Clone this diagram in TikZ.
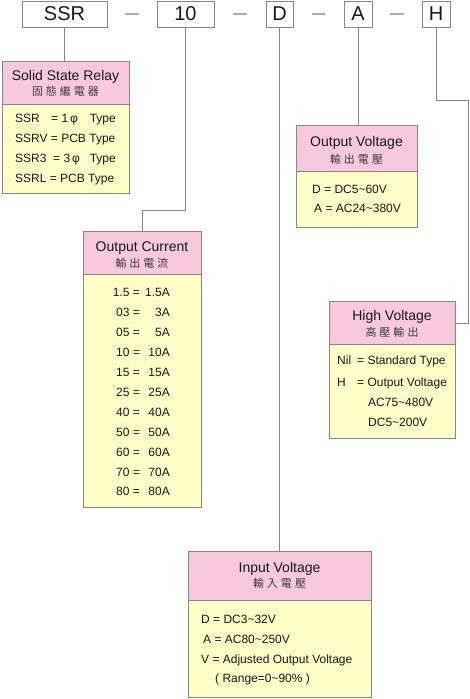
\documentclass[tikz,border=0pt]{standalone}
\usepackage{fontspec}
\setmainfont{Liberation Sans}
\newfontfamily\cjk{Noto Sans CJK TC}
\usetikzlibrary{calc}
\definecolor{hdrpink}{RGB}{248,200,221}
\definecolor{bodyyel}{RGB}{255,253,200}
\definecolor{edge}{RGB}{135,135,135}
\definecolor{ink}{RGB}{25,25,25}
\newcommand{\tild}{\textasciitilde}
\newcommand{\cg}{\hspace{3pt}}
\begin{document}
\begin{tikzpicture}[x=1pt,y=-1pt,
  topbox/.style={draw=edge,line width=0.8pt,fill=white,inner sep=0pt,minimum height=26pt,
    font=\fontsize{20}{20}\selectfont,text=ink},
  hdr/.style={draw=edge,line width=0.8pt,fill=hdrpink,inner sep=0pt,anchor=north west},
  bodybox/.style={draw=edge,line width=0.8pt,fill=bodyyel,inner sep=0pt,anchor=north west},
  ttl/.style={inner sep=0pt,font=\fontsize{14}{14}\selectfont,text=ink,text height=10pt,text depth=0pt},
  sub/.style={inner sep=0pt,font=\cjk\fontsize{11}{11}\selectfont,text=ink!85,text height=9.6pt,text depth=1.3pt},
  txt/.style={inner sep=0pt,font=\fontsize{12}{12}\selectfont,text=ink,text height=8.6pt,text depth=0pt},
  wire/.style={draw=edge,line width=0.8pt},
  sepline/.style={draw=edge!70,line width=1.2pt}]
\useasboundingbox (0,0) rectangle (470,699);

% top code boxes
\node[topbox,minimum width=85pt] (ssr) at (64.5,14) {SSR};
\node[topbox,minimum width=57pt] (ten) at (185.5,14) {10};
\node[topbox,minimum width=27pt] (d) at (279.5,14) {D};
\node[topbox,minimum width=28pt] (a) at (358,14) {A};
\node[topbox,minimum width=28pt] (h) at (436,14) {H};
\draw[sepline] (125,14) -- (139,14);
\draw[sepline] (233,14) -- (247,14);
\draw[sepline] (312,14) -- (325,14);
\draw[sepline] (390,14) -- (404,14);

% Solid State Relay box
\node[hdr,minimum width=127pt,minimum height=43pt] (relH) at (2,61) {};
\node[bodybox,minimum width=127pt,minimum height=89pt] (relB) at (2,104) {};
\node[ttl] (relT) at (65.5,75) {Solid State Relay};
\node[sub] (relS) at (65.5,91) {固\cg 態\cg 繼\cg 電\cg 器};
\node[txt,anchor=west] (r1a) at (15,118) {SSR};
\node[txt,anchor=west] (r1b) at (51,118) {= 1\,φ};
\node[txt,anchor=east] (r1c) at (116,118) {Type};
\node[txt,anchor=west] (r2) at (15,138) {SSRV = PCB Type};
\node[txt,anchor=west] (r3a) at (15,158) {SSR3};
\node[txt,anchor=west] (r3b) at (53,158) {= 3\,φ};
\node[txt,anchor=east] (r3c) at (116,158) {Type};
\node[txt,anchor=west] (r4) at (15,178) {SSRL = PCB Type};

% Output Current box
\node[hdr,minimum width=118pt,minimum height=43pt] (curH) at (83,231) {};
\node[bodybox,minimum width=118pt,minimum height=233pt] (curB) at (83,274) {};
\node[ttl] (curT) at (142,246) {Output Current};
\node[sub] (curS) at (142,263) {輸\cg 出\cg 電\cg 流};
\foreach \k/\v/\y in {1.5/1.5A/292, 03/3A/312, 05/5A/332, 10/10A/352, 15/15A/372,
                      25/25A/392, 40/40A/412, 50/50A/432, 60/60A/452, 70/70A/472, 80/80A/491}{
  \node[txt,anchor=east] (ck\y) at (140,\y) {\k\ =};
  \node[txt,anchor=east] (cv\y) at (170,\y) {\v};
}

% Output Voltage box
\node[hdr,minimum width=121pt,minimum height=46pt] (ovH) at (296,125) {};
\node[bodybox,minimum width=121pt,minimum height=56pt] (ovB) at (296,171) {};
\node[ttl] (ovT) at (356.5,141) {Output Voltage};
\node[sub] (ovS) at (356.5,159) {輸\cg 出\cg 電\cg 壓};
\node[txt,anchor=west] (ov1) at (312,189) {D = DC5\tild 60V};
\node[txt,anchor=west] (ov2) at (314,208) {A = AC24\tild 380V};

% High Voltage box
\node[hdr,minimum width=126pt,minimum height=43pt] (hvH) at (329,301) {};
\node[bodybox,minimum width=126pt,minimum height=94pt] (hvB) at (329,344) {};
\node[ttl] (hvT) at (392,315) {High Voltage};
\node[sub] (hvS) at (392,332) {高\cg 壓\cg 輸\cg 出};
\node[txt,anchor=west] (hv1a) at (337,360) {Nil};
\node[txt,anchor=west] (hv1b) at (357,360) {= Standard Type};
\node[txt,anchor=west] (hv2a) at (337,382) {H};
\node[txt,anchor=west] (hv2b) at (357,382) {= Output Voltage};
\node[txt,anchor=west] (hv3) at (368,402) {AC75\tild 480V};
\node[txt,anchor=west] (hv4) at (368,422) {DC5\tild 200V};

% Input Voltage box
\node[hdr,minimum width=183pt,minimum height=49pt] (inH) at (188,551) {};
\node[bodybox,minimum width=183pt,minimum height=97pt] (inB) at (188,600) {};
\node[ttl] (inT) at (279.5,567) {Input Voltage};
\node[sub] (inS) at (279.5,583) {輸\cg 入\cg 電\cg 壓};
\node[txt,anchor=west] (in1) at (201,619) {D = DC3\tild 32V};
\node[txt,anchor=west] (in2) at (203,639) {A = AC80\tild 250V};
\node[txt,anchor=west] (in3) at (201,659) {V = Adjusted Output Voltage};
\node[txt,anchor=west] (in4) at (215,678) {( Range=0\tild 90\% )};

% connectors
\draw[wire] (ssr.south) -- (ssr.south |- relH.north);
\draw[wire] (ten.south) |- ($(curH.north)+(0,-21)$) -- (curH.north);
\draw[wire] (d.south) -- (d.south |- inH.north);
\draw[wire] (a.south) -- (a.south |- ovH.north);
\coordinate (hbend) at (468,100);
\draw[wire] (h.south) |- (hbend) |- (hvH.east);
\end{tikzpicture}
\end{document}
